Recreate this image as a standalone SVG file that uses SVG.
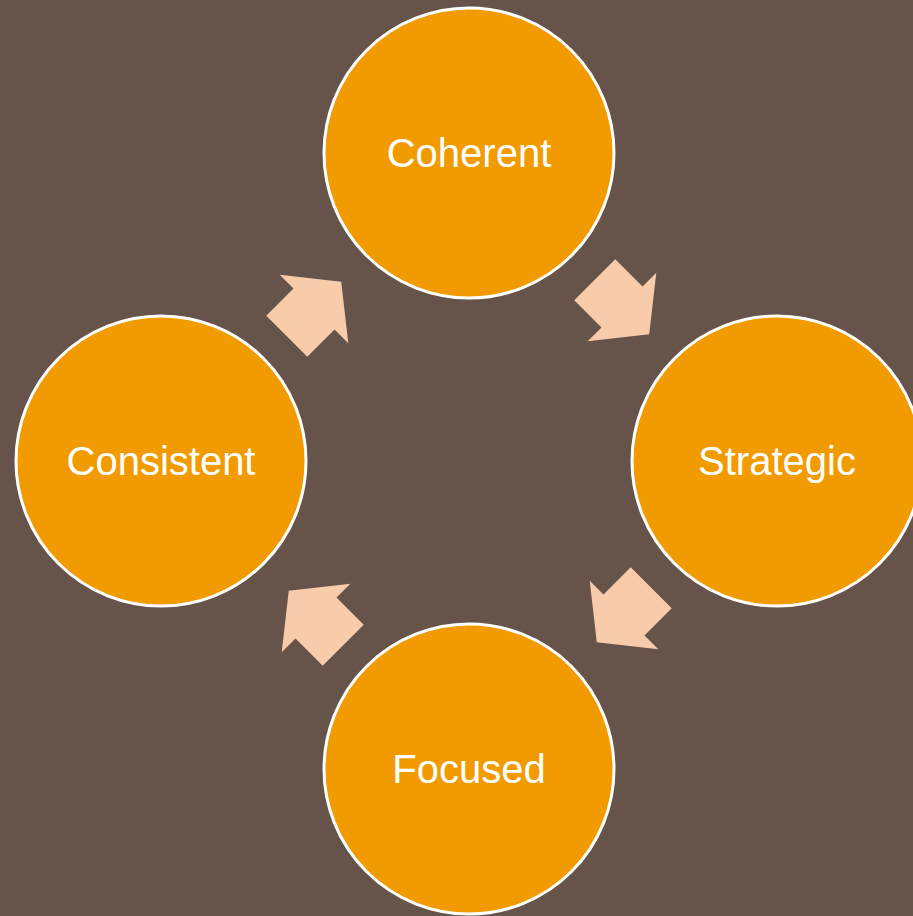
<svg xmlns="http://www.w3.org/2000/svg" width="913" height="916" viewBox="0 0 913 916">
<style>
.node circle{fill:#F29B00;stroke:#FFFFFF;stroke-width:3}
.node text{fill:#FFFFFF;font-family:"Liberation Sans",Arial,sans-serif;font-size:40px;text-anchor:middle}
.arrow{fill:#F8CBAA}
</style>
<defs>
<path id="blk" d="M-38.5,-29 L0,-29 L0,-48.5 L38.5,0 L0,48.5 L0,29 L-38.5,29 Z"/>
</defs>
<rect width="913" height="916" fill="#66544B"/>
<g id="connectors">
<use href="#blk" class="arrow" transform="translate(622,307) rotate(45)"/>
<use href="#blk" class="arrow" transform="translate(624,615) rotate(135)"/>
<use href="#blk" class="arrow" transform="translate(316,618) rotate(225)"/>
<use href="#blk" class="arrow" transform="translate(314,309) rotate(315)"/>
</g>
<g id="coherent" class="node"><circle cx="469" cy="153" r="145"/><text x="469" y="167">Coherent</text></g>
<g id="strategic" class="node"><circle cx="777" cy="461" r="145"/><text x="777" y="475">Strategic</text></g>
<g id="focused" class="node"><circle cx="469" cy="769" r="145"/><text x="469" y="783">Focused</text></g>
<g id="consistent" class="node"><circle cx="161" cy="461" r="145"/><text x="161" y="475">Consistent</text></g>
</svg>
